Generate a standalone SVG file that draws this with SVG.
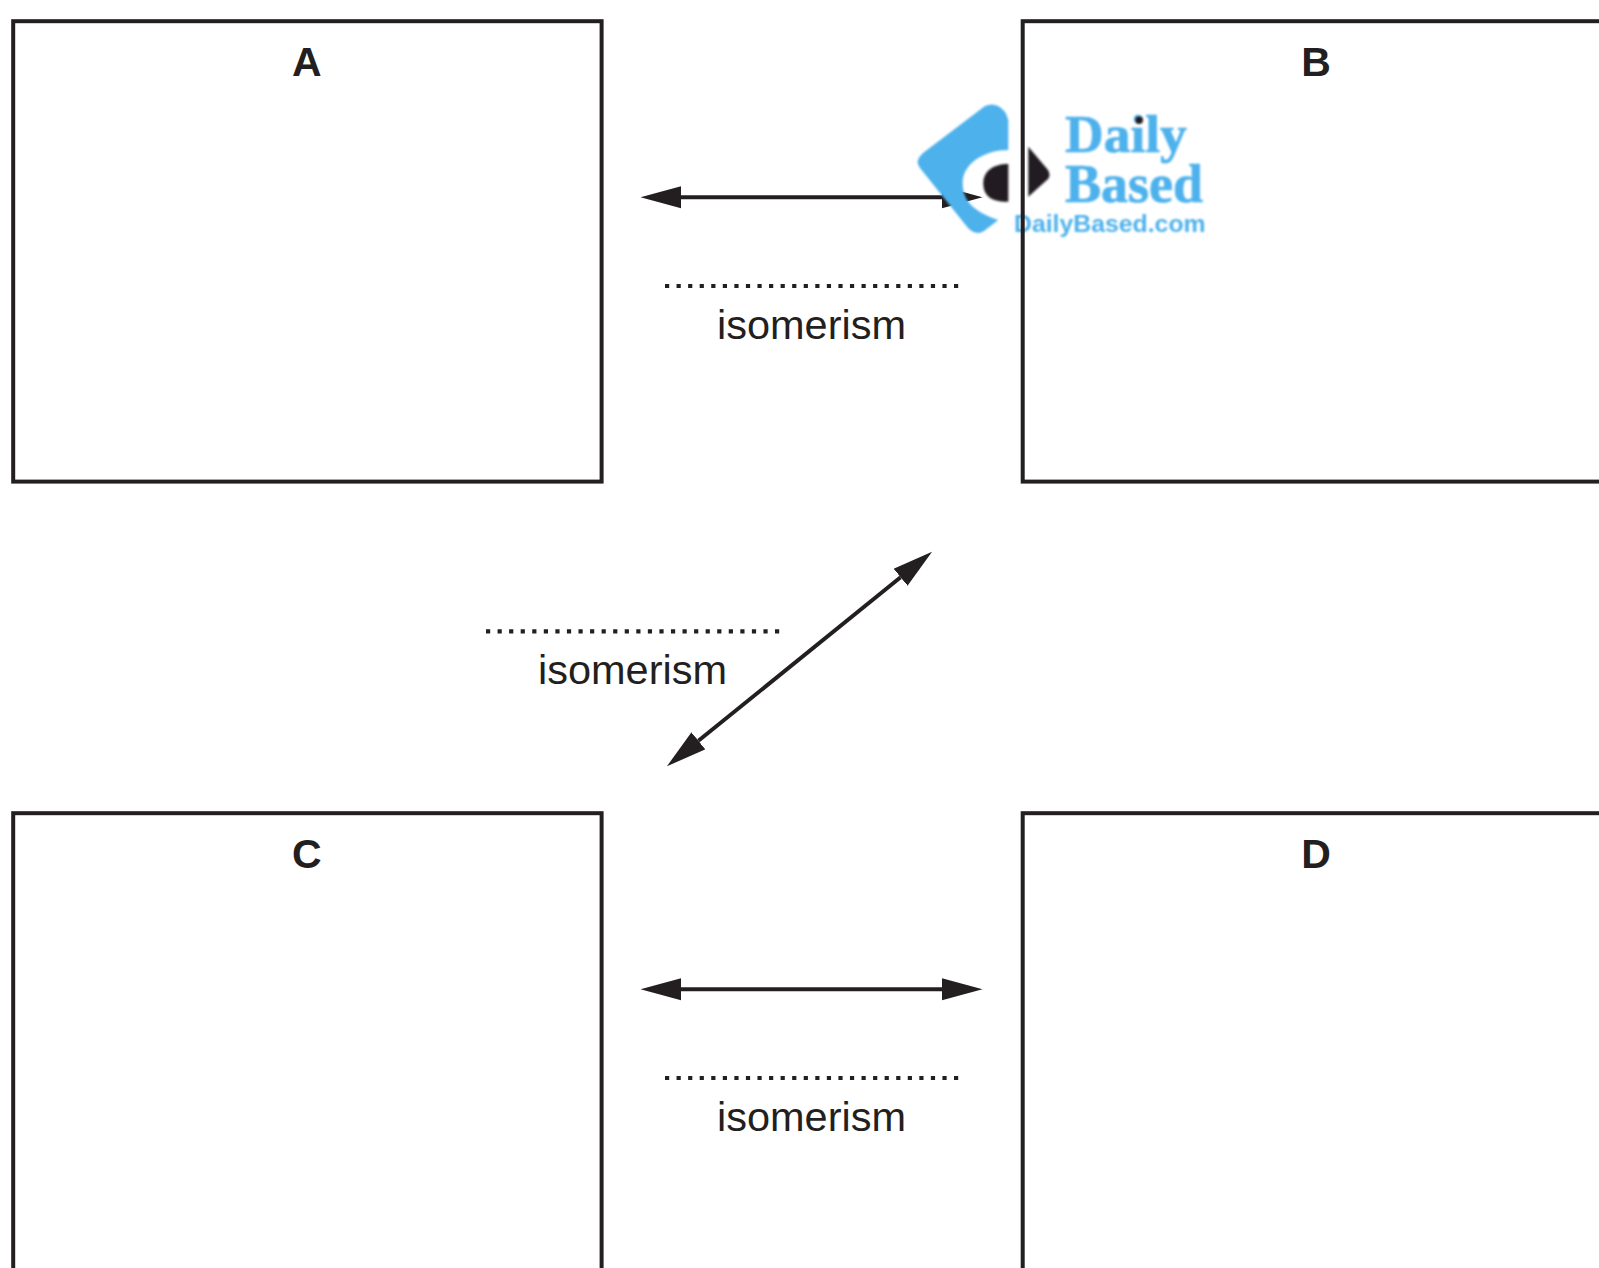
<svg xmlns="http://www.w3.org/2000/svg" width="1599" height="1268" viewBox="0 0 1599 1268">
<style>
.box{fill:none;stroke:#231f20;stroke-width:4}
.ttl{font-family:"Liberation Sans",Arial,sans-serif;font-weight:700;font-size:41px;fill:#231f20;text-anchor:middle}
.lab{font-family:"Liberation Sans",Arial,sans-serif;font-size:41.5px;fill:#231f20;text-anchor:middle}
.dots{stroke:#231f20;stroke-width:4.2;stroke-dasharray:4.2 7.36;fill:none}
.arr{stroke:#231f20;stroke-width:4;fill:none;marker-start:url(#h);marker-end:url(#h)}
.wb{fill:#4db1ec}
.ws{stroke:#4db1ec;stroke-width:0.7}
</style>
<defs>
<marker id="h" markerUnits="userSpaceOnUse" markerWidth="41" markerHeight="24" refX="0" refY="11.5" orient="auto-start-reverse" viewBox="0 0 41 23"><path d="M0,0.5 L40.5,11.5 L0,22.5z" fill="#231f20"/></marker>
<filter id="soft" x="-5%" y="-5%" width="110%" height="110%"><feGaussianBlur stdDeviation="0.8"/></filter>
</defs>
<rect width="1599" height="1268" fill="#fff"/>
<g id="connectors">
<line class="arr" x1="681" y1="197.3" x2="942" y2="197.3"/>
<line class="arr" x1="681" y1="989.3" x2="942" y2="989.3"/>
<line class="arr" x1="698.4" y1="740.8" x2="900.6" y2="577.2"/>
</g>
<g id="watermark" filter="url(#soft)">
<path class="wb" d="M1008.3,120 Q1006,110 998,106 Q992,103 985,106 L923,153 Q914,161 920,168 L968,228 Q976,236 984,231 L998.3,220 C975,212 962.7,202 962.7,183 C962.7,163 985,150 1008.3,150 Z"/>
<path d="M1008.3,164 C992,164 983.3,172 983.3,183 C983.3,195 990,202 1008.3,201.7 Z" fill="#231f20"/>
<path d="M1028.3,146.7 L1048,170 Q1051,175 1048,179 L1028.3,196.7 Z" fill="#231f20"/>
<text x="1065" y="151.7" font-family="Liberation Serif,serif" font-weight="700" font-size="53.5" class="wb ws">Daily</text>
<text x="1065" y="201.7" font-family="Liberation Serif,serif" font-weight="700" font-size="54" class="wb ws">Based</text>
<circle cx="1139" cy="120" r="4" fill="#231f20"/>
<text x="1014" y="231.7" font-family="Liberation Sans,sans-serif" font-weight="700" font-size="24.8" class="wb">DailyBased.com</text>
</g>
<g id="node-a"><rect class="box" x="13.2" y="21.2" width="588.4" height="460.4"/><text class="ttl" x="306.7" y="76">A</text></g>
<g id="node-b"><rect class="box" x="1022.7" y="21.2" width="640" height="460.4"/><text class="ttl" x="1316" y="76">B</text></g>
<g id="node-c"><rect class="box" x="13.2" y="813.2" width="588.4" height="520"/><text class="ttl" x="306.7" y="868">C</text></g>
<g id="node-d"><rect class="box" x="1022.7" y="813.2" width="640" height="520"/><text class="ttl" x="1316" y="868">D</text></g>
<g id="labels">
<line class="dots" x1="665" y1="286" x2="959" y2="286"/>
<text class="lab" x="811.5" y="338.7">isomerism</text>
<line class="dots" x1="486" y1="631.3" x2="780" y2="631.3"/>
<text class="lab" x="632.5" y="684">isomerism</text>
<line class="dots" x1="665" y1="1078" x2="959" y2="1078"/>
<text class="lab" x="811.5" y="1130.7">isomerism</text>
</g>
</svg>
